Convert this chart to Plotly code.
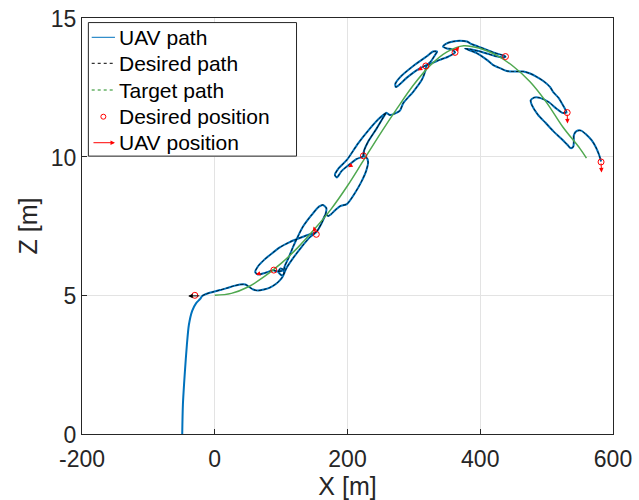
import plotly.graph_objects as go

# ---------------- data (metres) ----------------
uav_x = [-49, -48, -45, -42, -39, -34, -28, -22, -19, -13, -3, 8, 18, 29, 38, 46, 52, 58, 65, 74, 83, 92, 98,
         102, 108, 118, 131, 143, 153, 161, 167, 168, 163, 157, 146, 133, 124, 118, 111, 105, 104, 101, 96, 99, 104,
         95, 88, 76, 65, 61, 65, 74, 85, 98, 113, 124, 136, 147, 153, 161, 167, 171, 175, 181, 189,
         199, 211, 221, 228, 231, 228, 224, 225, 231, 244, 254, 258, 246, 234, 216, 199, 186, 181, 184, 191, 204,
         214, 224, 225, 231, 244, 254, 258, 264, 272, 279,
         284, 299, 312, 317, 319, 326, 332, 335, 329, 319, 299, 279, 272, 273, 289, 304, 318, 327, 339, 352, 362,
         357, 350, 344, 349, 359, 369, 380, 387, 397, 410, 422, 435, 438, 434, 422, 410, 397, 385, 377, 394, 410,
         419, 430, 440, 450, 465, 475, 485, 495, 505, 510, 518, 524, 528, 530,
         524, 515, 503, 490, 481, 476, 478, 487, 498, 510, 523, 532, 536, 540, 541, 541, 545, 552, 560, 568, 574,
         579, 582]
uav_z = [0, 1.05, 2.24, 3.21, 3.93, 4.44, 4.72, 4.87, 4.98, 5.05, 5.12, 5.19, 5.26, 5.34, 5.39, 5.39, 5.30, 5.21,
         5.17, 5.21, 5.28, 5.41, 5.54,
         5.66, 5.98, 6.34, 6.75, 7.09, 7.28, 7.60, 7.93, 8.15, 8.26, 8.20, 7.90, 7.48, 7.06, 6.75, 6.34, 6.02, 5.77,
         5.72, 5.84, 5.97, 5.91, 5.86, 5.90, 5.81, 5.75, 5.84, 6.04, 6.27, 6.49, 6.73, 6.92, 7.03, 7.14, 7.23, 7.28,
         7.60, 7.92, 7.86, 7.92, 8.06, 8.22,
         8.29, 8.68, 9.10, 9.48, 9.81, 9.99, 10.02, 10.22, 10.54, 11.02, 11.42, 11.58, 11.34, 11.02, 10.48, 9.88,
         9.56, 9.34, 9.25, 9.48, 9.74, 9.92, 10.02, 10.22, 10.54, 11.02, 11.42, 11.58, 11.50, 11.56, 11.66,
         11.93, 12.34, 12.77, 13.07, 13.27, 13.45, 13.67, 13.79, 13.79, 13.61, 13.27, 12.86, 12.62, 12.51, 12.84,
         13.11, 13.29, 13.37, 13.49, 13.61, 13.76,
         13.87, 13.90, 13.97, 14.08, 14.15, 14.18, 14.15, 14.06, 13.97, 13.85, 13.74, 13.65, 13.61, 13.58, 13.63,
         13.72, 13.81, 13.87, 13.90, 13.74, 13.49, 13.31, 13.19, 13.09, 13.07, 13.07, 13.00, 12.88, 12.73, 12.52,
         12.33, 12.12, 11.88, 11.71, 11.59,
         11.58, 11.73, 11.97, 12.12, 12.13, 12.03, 11.85, 11.51, 11.23, 10.92, 10.63, 10.41, 10.31, 10.35, 10.53,
         10.77, 10.92, 10.94, 10.79, 10.59, 10.35, 10.07, 9.83]

desired_start = 8  # desired path follows the UAV path from the first desired point on

target_x = [0, 25, 50, 75, 100, 125, 150, 175, 200, 225, 250, 275, 300, 325, 350, 375, 400, 425, 450, 475,
            500, 525, 550, 560]
target_z = [5.0, 5.07, 5.3, 5.68, 6.15, 6.72, 7.38, 8.1, 8.95, 9.9, 10.85, 11.75, 12.6, 13.3, 13.78, 14.0,
            13.9, 13.65, 13.25, 12.7, 11.95, 11.05, 10.3, 9.95]

des_pos_x = [-30, 89, 153, 224, 318, 362, 438, 531, 582]
des_pos_z = [5.0, 5.91, 7.20, 10.03, 13.27, 13.76, 13.61, 11.59, 9.81]

# UAV position arrows: tail -> head
arr_tail_x = [-21, 68, 151, 209, 312, 362, 531, 582]
arr_tail_z = [4.98, 5.79, 7.32, 9.74, 13.20, 13.76, 11.57, 9.81]
arr_head_x = [-40, 62, 149, 201, 306, 368, 531.5, 582.7]
arr_head_z = [4.98, 5.75, 7.48, 9.62, 13.11, 13.97, 11.20, 9.43]
arr_color = ['black', 'red', 'red', 'red', 'red', 'red', 'red', 'red']

x_ticks = [-200, 0, 200, 400, 600]
z_ticks = [0, 5, 10, 15]

legend_labels = ["UAV path", "Desired path", "Target path", "Desired position", "UAV position"]

FONT = "Liberation Sans, Arial, sans-serif"
AXC = "#262626"
UAV_BLUE = "#0072BD"
GREEN = "#4FA84F"

fig = go.Figure()

fig.add_trace(go.Scatter(x=uav_x, y=uav_z, mode="lines", name=legend_labels[0],
                         line=dict(color=UAV_BLUE, width=2, shape="spline", smoothing=0.7)))
fig.add_trace(go.Scatter(x=uav_x[desired_start:], y=uav_z[desired_start:], mode="lines",
                         name=legend_labels[1],
                         line=dict(color="rgba(0,0,0,0.75)", width=1, dash="3px,2px",
                                   shape="spline", smoothing=0.7)))
fig.add_trace(go.Scatter(x=target_x, y=target_z, mode="lines", name=legend_labels[2],
                         line=dict(color=GREEN, width=1.5, shape="spline")))
fig.add_trace(go.Scatter(x=des_pos_x, y=des_pos_z, mode="markers", name=legend_labels[3],
                         marker=dict(symbol="circle-open", color="red", size=6, line=dict(width=1))))

for tx, tz, hx, hz, c in zip(arr_tail_x, arr_tail_z, arr_head_x, arr_head_z, arr_color):
    fig.add_annotation(x=hx, y=hz, ax=tx, ay=tz, xref="x", yref="y", axref="x", ayref="y",
                       showarrow=True, arrowhead=2, arrowsize=0.9, arrowwidth=1, arrowcolor=c, text="")

# ---------------- legend box (drawn to match MATLAB's compact legend) ----------------
box = dict(x0=0.012, x1=0.404, y0=0.668, y1=0.989)
row_y = [0.9536, 0.8911, 0.8269, 0.7627, 0.7002]
sample_x0, sample_x1, text_x = 0.0183, 0.0621, 0.0665

fig.add_shape(type="rect", xref="paper", yref="paper", **box,
              line=dict(color=AXC, width=1), fillcolor="white", layer="above")
sample_styles = [dict(color=UAV_BLUE, width=1),
                 dict(color="black", width=1, dash="3px,3px"),
                 dict(color="#1a8a1a", width=1, dash="3px,3px")]
for yy, st in zip(row_y[:3], sample_styles):
    fig.add_shape(type="line", xref="paper", yref="paper", x0=sample_x0, x1=sample_x1, y0=yy, y1=yy,
                  line=st, layer="above")
fig.add_shape(type="circle", xref="paper", yref="paper", xsizemode="pixel", ysizemode="pixel",
              xanchor=(sample_x0 + sample_x1) / 2, yanchor=row_y[3], x0=-2.5, x1=2.5, y0=-2.5, y1=2.5,
              line=dict(color="red", width=1), layer="above")
fig.add_annotation(x=sample_x1, y=row_y[4], xref="paper", yref="paper", ax=-23, ay=0,
                   showarrow=True, arrowhead=2, arrowsize=0.9, arrowwidth=1, arrowcolor="red", text="")
for yy, lab in zip(row_y, legend_labels):
    fig.add_annotation(x=text_x, y=yy, xref="paper", yref="paper", text=lab, showarrow=False,
                       xanchor="left", yanchor="middle",
                       font=dict(family=FONT, size=21, color="black"))

axis_common = dict(showline=True, linecolor=AXC, linewidth=1, mirror=True,
                   ticks="inside", ticklen=5, tickcolor=AXC, automargin=False,
                   showgrid=True, gridcolor="#e3e3e3", gridwidth=1, zeroline=False,
                   tickfont=dict(family=FONT, size=23, color=AXC))

fig.update_xaxes(range=[-200, 600], tickvals=x_ticks, ticktext=[str(v) for v in x_ticks],
                 ticklabelstandoff=4,
                 title=dict(text="X [m]", font=dict(family=FONT, size=25, color=AXC), standoff=6),
                 **axis_common)
fig.update_yaxes(range=[0, 15], tickvals=z_ticks, ticktext=[str(v) for v in z_ticks],
                 ticklabelshift=1,
                 title=dict(text="Z [m]", font=dict(family=FONT, size=25, color=AXC), standoff=6),
                 **axis_common)

fig.update_layout(
    width=639, height=500,
    margin=dict(l=82, r=26, t=18, b=66),
    paper_bgcolor="white", plot_bgcolor="white",
    showlegend=False,
)

fig.write_html("out.html")
